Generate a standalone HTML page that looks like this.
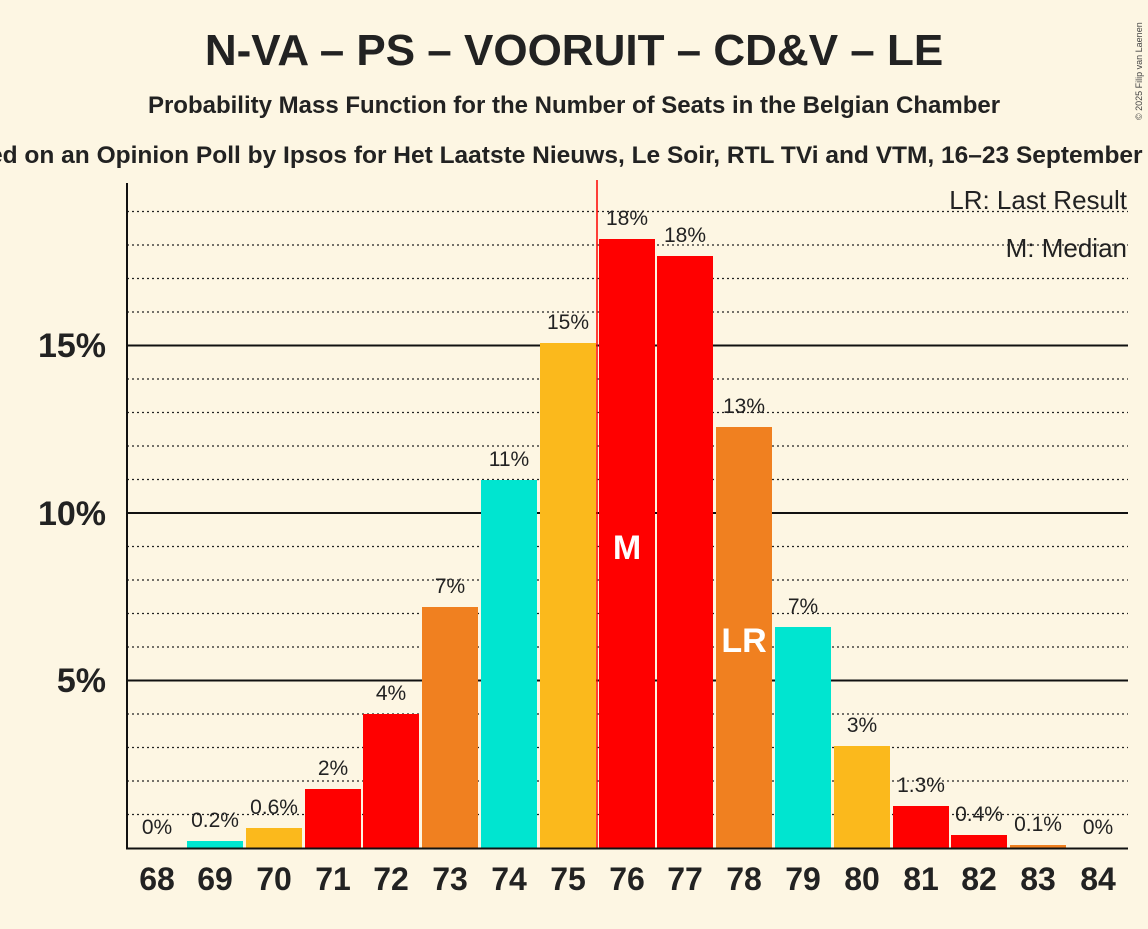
<!DOCTYPE html>
<html><head><style>body{margin:0;background:#fdf6e3}</style></head><body>
<svg width="1148" height="924" xmlns="http://www.w3.org/2000/svg" font-family="Liberation Sans, sans-serif">
<rect width="1148" height="924" fill="#fdf6e3"/>
<text x="574" y="65" text-anchor="middle" font-size="44" font-weight="bold" fill="#222">N-VA – PS – VOORUIT – CD&amp;V – LE</text>
<text x="574" y="113" text-anchor="middle" font-size="24" font-weight="bold" fill="#222">Probability Mass Function for the Number of Seats in the Belgian Chamber</text>
<text x="574" y="163" text-anchor="middle" font-size="24.5" font-weight="bold" fill="#222">Based on an Opinion Poll by Ipsos for Het Laatste Nieuws, Le Soir, RTL TVi and VTM, 16–23 September 2025</text>
<text x="1142" y="120" font-size="9" fill="#444" transform="rotate(-90 1142 120)">© 2025 Filip van Laenen</text>
<g stroke="#222" stroke-width="1.2" stroke-dasharray="2,3">
<line x1="127" x2="1128" y1="814.5" y2="814.5"/><line x1="127" x2="1128" y1="781" y2="781"/><line x1="127" x2="1128" y1="747.5" y2="747.5"/><line x1="127" x2="1128" y1="714" y2="714"/>
<line x1="127" x2="1128" y1="647" y2="647"/><line x1="127" x2="1128" y1="613.5" y2="613.5"/><line x1="127" x2="1128" y1="580" y2="580"/><line x1="127" x2="1128" y1="546.5" y2="546.5"/>
<line x1="127" x2="1128" y1="479.5" y2="479.5"/><line x1="127" x2="1128" y1="446" y2="446"/><line x1="127" x2="1128" y1="412.5" y2="412.5"/><line x1="127" x2="1128" y1="379" y2="379"/>
<line x1="127" x2="1128" y1="312" y2="312"/><line x1="127" x2="1128" y1="278.5" y2="278.5"/><line x1="127" x2="1128" y1="245" y2="245"/><line x1="127" x2="1128" y1="211.5" y2="211.5"/>
</g>
<g stroke="#111" stroke-width="2"><line x1="127" x2="1128" y1="680.5" y2="680.5"/><line x1="127" x2="1128" y1="513" y2="513"/><line x1="127" x2="1128" y1="345.5" y2="345.5"/></g>
<g font-size="34" font-weight="bold" fill="#222" text-anchor="end"><text x="106" y="692">5%</text><text x="106" y="525">10%</text><text x="106" y="357">15%</text></g>
<g>
<rect x="187" y="841" width="56" height="7" fill="#00e5d0"/>
<rect x="246" y="828" width="56" height="20" fill="#fbb91c"/>
<rect x="305" y="789" width="56" height="59" fill="#ff0000"/>
<rect x="363" y="714" width="56" height="134" fill="#ff0000"/>
<rect x="422" y="607" width="56" height="241" fill="#f08020"/>
<rect x="481" y="480" width="56" height="368" fill="#00e5d0"/>
<rect x="540" y="343" width="56" height="505" fill="#fbb91c"/>
<rect x="599" y="239" width="56" height="609" fill="#ff0000"/>
<rect x="657" y="256" width="56" height="592" fill="#ff0000"/>
<rect x="716" y="427" width="56" height="421" fill="#f08020"/>
<rect x="775" y="627" width="56" height="221" fill="#00e5d0"/>
<rect x="834" y="746" width="56" height="102" fill="#fbb91c"/>
<rect x="893" y="806" width="56" height="42" fill="#ff0000"/>
<rect x="951" y="835" width="56" height="13" fill="#ff0000"/>
<rect x="1010" y="845" width="56" height="3" fill="#f08020"/>
</g>
<line x1="597" x2="597" y1="180" y2="848" stroke="#ff0000" stroke-width="1.5"/>
<line x1="127" x2="127" y1="183" y2="849" stroke="#111" stroke-width="2"/>
<line x1="126" x2="1128" y1="848.5" y2="848.5" stroke="#111" stroke-width="2"/>
<g font-size="21" fill="#222" text-anchor="middle">
<text x="157" y="834">0%</text><text x="215" y="827">0.2%</text><text x="274" y="814">0.6%</text><text x="333" y="775">2%</text><text x="391" y="700">4%</text><text x="450" y="593">7%</text><text x="509" y="466">11%</text><text x="568" y="329">15%</text><text x="627" y="225">18%</text><text x="685" y="242">18%</text><text x="744" y="413">13%</text><text x="803" y="613">7%</text><text x="862" y="732">3%</text><text x="921" y="792">1.3%</text><text x="979" y="821">0.4%</text><text x="1038" y="831">0.1%</text><text x="1098" y="834">0%</text>
</g>
<text x="627" y="559" text-anchor="middle" font-size="34" font-weight="bold" fill="#fff">M</text>
<text x="744" y="652" text-anchor="middle" font-size="34" font-weight="bold" fill="#fff">LR</text>
<g font-size="26" fill="#222" text-anchor="end"><text x="1127" y="209">LR: Last Result</text><text x="1127" y="257">M: Median</text></g>
<g font-size="32" font-weight="bold" fill="#222" text-anchor="middle">
<text x="157" y="890">68</text><text x="215" y="890">69</text><text x="274" y="890">70</text><text x="333" y="890">71</text><text x="391" y="890">72</text><text x="450" y="890">73</text><text x="509" y="890">74</text><text x="568" y="890">75</text><text x="627" y="890">76</text><text x="685" y="890">77</text><text x="744" y="890">78</text><text x="803" y="890">79</text><text x="862" y="890">80</text><text x="921" y="890">81</text><text x="979" y="890">82</text><text x="1038" y="890">83</text><text x="1098" y="890">84</text>
</g>
</svg>
</body></html>
